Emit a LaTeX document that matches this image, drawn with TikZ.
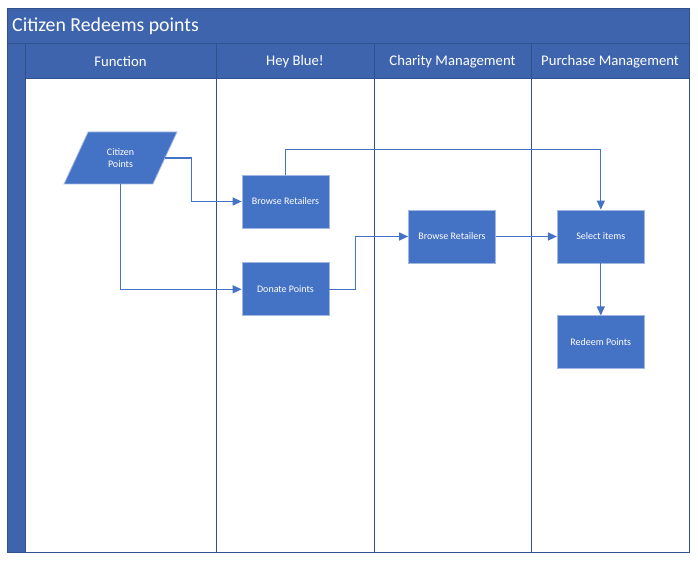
\documentclass[tikz,border=0pt]{standalone}
\usepackage{fontspec}
\setmainfont{Carlito}
\usetikzlibrary{arrows.meta, positioning, shapes.geometric}
\definecolor{LaneBlue} {RGB}{ 61, 100, 173}
\definecolor{LaneEdge} {RGB}{ 47,  82, 143}
\definecolor{BoxBlue}  {RGB}{ 68, 114, 196}
\definecolor{BoxEdge}  {RGB}{160, 183, 225}
\definecolor{FlowBlue} {RGB}{ 68, 114, 196}
\tikzset{
  % Process step box
  stepbox/.style={
    rectangle, fill=BoxBlue, draw=BoxEdge, line width=0.8pt,
    font=\fontsize{10}{12}\selectfont, text=white,
    inner sep=0pt, minimum width=87pt, minimum height=53pt,
    align=center
  },
  % Data (parallelogram) box
  databox/.style={
    trapezium, trapezium left angle=62, trapezium right angle=118,
    trapezium stretches=true,
    fill=BoxBlue, draw=BoxEdge, line width=0.8pt,
    font=\fontsize{10}{12}\selectfont, text=white,
    inner sep=0pt, minimum width=113pt, minimum height=52pt,
    align=center
  },
  % Lane header text
  lanehead/.style={
    font=\fontsize{14.7}{17}\selectfont, text=white, inner sep=0pt
  },
  % Pool title text
  pooltitle/.style={
    font=\fontsize{19.8}{23}\selectfont, text=white, inner sep=0pt,
    anchor=west
  },
  % Swimlane borders
  laneline/.style={
    draw=LaneEdge, line width=1pt
  },
  % Flow arrows
  flow/.style={
    -{Triangle[length=9pt, width=8pt]}, line width=1.3pt, draw=FlowBlue
  }
}
\begin{document}
\begin{tikzpicture}[x=1pt, y=-1pt]

  \path[use as bounding box, fill=white] (0,0) rectangle (698,564);

  % ── POOL & LANES ──────────────────────────────────────────────────────────
  \fill[LaneBlue] (7,9) rectangle (689,79);
  \fill[LaneBlue] (7,79) rectangle (25,552);
  \draw[laneline] (7,9) rectangle (689,552);
  \draw[laneline] (7,44) -- (689,44);
  \draw[laneline] (25,79) -- (689,79);
  \foreach \x in {25,216,374,531}
    \draw[laneline] (\x,44) -- (\x,552);

  \node[pooltitle] (pool_title) at (12,26.5) {Citizen Redeems points};

  \node[lanehead] (h_func)     at (120.5,61.5) {Function};
  \node[lanehead] (h_heyblue)  at (295,61.5)   {Hey Blue!};
  \node[lanehead] (h_charity)  at (452.5,61.5) {Charity Management};
  \node[lanehead] (h_purchase) at (610,61.5)   {Purchase Management};

  % ── STEPS ─────────────────────────────────────────────────────────────────
  \node[databox] (cit_pts) at (120.5,158) {Citizen\\Points};

  \node[stepbox] (browse_a) at (285.5,201.5) {Browse Retailers};
  \node[stepbox, below=34pt of browse_a] (donate) {Donate Points};

  \node[stepbox] (browse_b) at (452,236.5) {Browse Retailers};

  \node[stepbox, right=61pt of browse_b] (select) {Select items};
  \node[stepbox, below=52pt of select] (redeem) {Redeem Points};

  % ── ARROWS ────────────────────────────────────────────────────────────────
  \draw[flow] (cit_pts.east) -- +(26,0) |- (browse_a.west);
  \draw[flow] (cit_pts.center |- cit_pts.south) |- (donate.west);
  \draw[flow] (browse_a.north) -- +(0,-25) -| (select.north);
  \draw[flow] (donate.east) -- +(26,0) |- (browse_b.west);
  \draw[flow] (browse_b.east) -- (select.west);
  \draw[flow] (select.south) -- (redeem.north);

\end{tikzpicture}
\end{document}
